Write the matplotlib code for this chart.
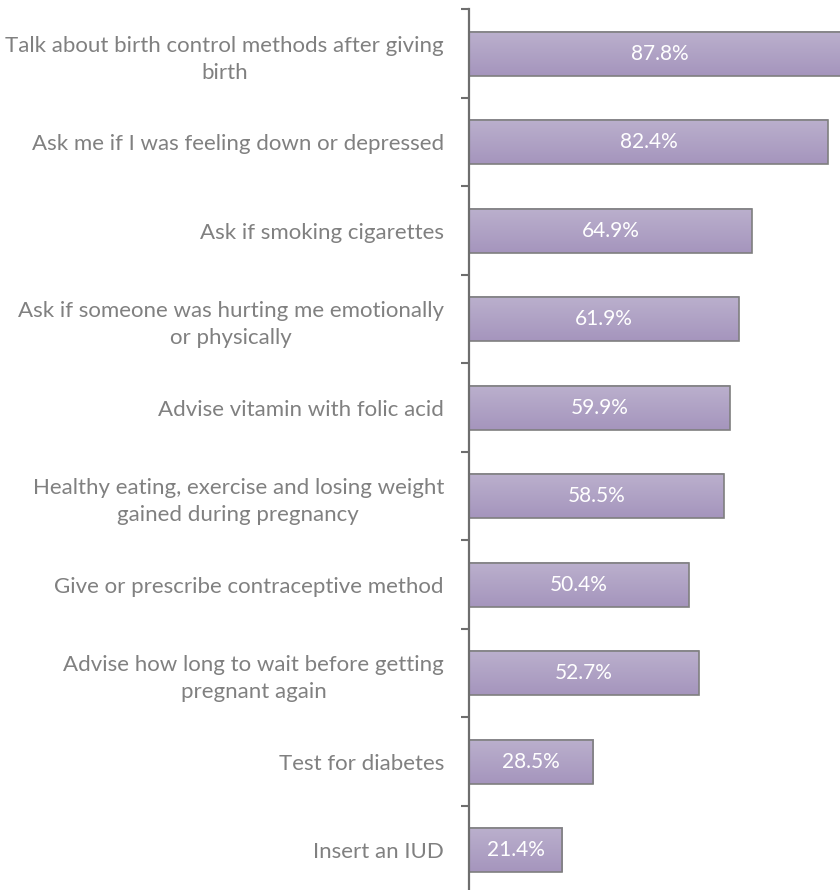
import numpy as np
import matplotlib
matplotlib.use("Agg")
import matplotlib.pyplot as plt
from matplotlib.colors import LinearSegmentedColormap

plt.rcParams['font.family'] = ['Lato', 'DejaVu Sans']

categories = [
    "Talk about birth control methods after giving\nbirth",
    "Ask me if I was feeling down or depressed",
    "Ask if smoking cigarettes",
    "Ask if someone was hurting me emotionally\nor physically",
    "Advise vitamin with folic acid",
    "Healthy eating, exercise and losing weight\ngained during pregnancy",
    "Give or prescribe contraceptive method",
    "Advise how long to wait before getting\npregnant again",
    "Test for diabetes",
    "Insert an IUD",
]
values = [87.8, 82.4, 64.9, 61.9, 59.9, 58.5, 50.4, 52.7, 28.5, 21.4]
value_labels = ["87.8%", "82.4%", "64.9%", "61.9%", "59.9%", "58.5%",
                "50.4%", "52.7%", "28.5%", "21.4%"]

W, H = 840, 890
fig = plt.figure(figsize=(W / 100, H / 100), dpi=100)
left_px, top_px, bottom_px = 469, 9.5, 894.5
ax = fig.add_axes([left_px / W, 1 - bottom_px / H, 1 - left_px / W,
                   (bottom_px - top_px) / H])

n = len(categories)
ypos = np.arange(n)
bar_h = 0.5

grad = LinearSegmentedColormap.from_list("bar", ["#bbb0cd", "#a595bd"])
gimg = np.linspace(0, 1, 64).reshape(-1, 1)

for y, v, lab in zip(ypos, values, value_labels):
    ax.imshow(gimg, cmap=grad, aspect='auto', interpolation='bilinear',
              extent=(0, v, y + bar_h / 2, y - bar_h / 2), zorder=1)
    ax.text(v / 2, y, lab, ha='center', va='center', color='white',
            fontsize=15, zorder=3)

ax.barh(ypos, values, height=bar_h, facecolor='none', edgecolor='#7f7f7f',
        linewidth=1.2, zorder=2)

ax.set_xlim(0, (W - left_px) / ((828 - left_px) / 82.4))
ax.set_ylim(n - 0.5, -0.5)

ax.set_xticks([])
ax.set_yticks(ypos)
ax.set_yticklabels(categories, fontsize=16, color='#808080',
                   multialignment='center', linespacing=1.45)
ax.tick_params(axis='y', which='major', length=0, pad=18)
ax.set_yticks(np.arange(-0.5, n, 1.0), minor=True)
ax.tick_params(axis='y', which='minor', length=6, width=1.5, color='#6e6e6e')

for s in ['top', 'right', 'bottom']:
    ax.spines[s].set_visible(False)
ax.spines['left'].set_color('#6e6e6e')
ax.spines['left'].set_linewidth(1.6)
ax.spines['left'].set_zorder(4)

fig.savefig("out.png", dpi=100)
